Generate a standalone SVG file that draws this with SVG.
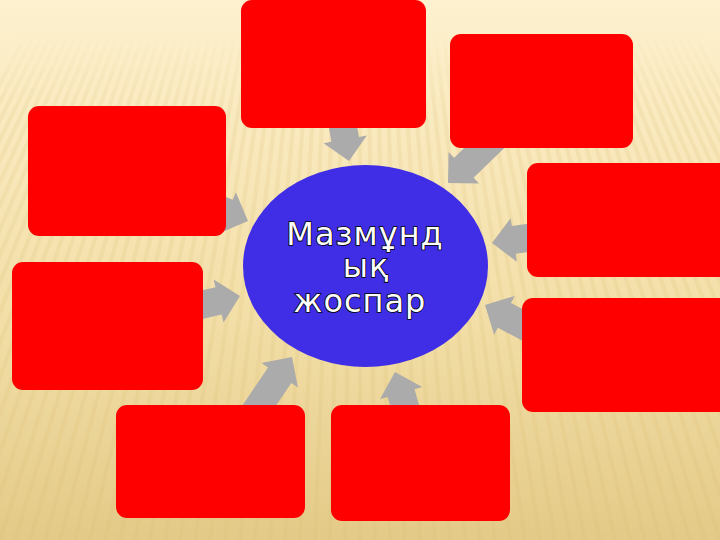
<svg xmlns="http://www.w3.org/2000/svg" width="720" height="540" viewBox="0 0 720 540">
  <defs>
    <linearGradient id="bg" x1="0" y1="0" x2="0" y2="1">
      <stop offset="0" stop-color="#fdf1cf"/>
      <stop offset="0.15" stop-color="#fbecc4"/>
      <stop offset="0.6" stop-color="#f2dea6"/>
      <stop offset="1" stop-color="#e4ca88"/>
    </linearGradient>
    <linearGradient id="fade" x1="0" y1="0" x2="0" y2="1">
      <stop offset="0" stop-color="#000"/>
      <stop offset="0.06" stop-color="#000"/>
      <stop offset="0.2" stop-color="#fff"/>
      <stop offset="1" stop-color="#fff"/>
    </linearGradient>
    <mask id="stripemask" maskUnits="userSpaceOnUse" x="0" y="0" width="720" height="540">
      <rect x="0" y="0" width="720" height="540" fill="url(#fade)"/>
    </mask>
    <polygon id="arrow" points="0,0 -22,-22 -22,-14 -75,-14 -75,14 -22,14 -22,22"/>
    <style>
      .box { fill: #ff0000; }
      .arr { fill: #ababab; }
      .lbl { font-family: "DejaVu Sans", "Noto Sans", sans-serif; font-size: 32px; fill: #ffffff; stroke: #000000; stroke-width: 1.6; paint-order: stroke; text-anchor: middle; letter-spacing: 1px; }
    </style>
  </defs>

  <g id="background">
    <rect x="0" y="0" width="720" height="540" fill="url(#bg)"/>
    <path mask="url(#stripemask)" fill="none" stroke="#d9bd70" stroke-width="4" stroke-opacity="0.16"
      d="M360 -600 L-240 540 M360 -600 L-225 540 M360 -600 L-210 540 M360 -600 L-195 540 M360 -600 L-180 540 M360 -600 L-165 540 M360 -600 L-150 540 M360 -600 L-135 540 M360 -600 L-120 540 M360 -600 L-105 540 M360 -600 L-90 540 M360 -600 L-75 540 M360 -600 L-60 540 M360 -600 L-45 540 M360 -600 L-30 540 M360 -600 L-15 540 M360 -600 L0 540 M360 -600 L15 540 M360 -600 L30 540 M360 -600 L45 540 M360 -600 L60 540 M360 -600 L75 540 M360 -600 L90 540 M360 -600 L105 540 M360 -600 L120 540 M360 -600 L135 540 M360 -600 L150 540 M360 -600 L165 540 M360 -600 L180 540 M360 -600 L195 540 M360 -600 L210 540 M360 -600 L225 540 M360 -600 L240 540 M360 -600 L255 540 M360 -600 L270 540 M360 -600 L285 540 M360 -600 L300 540 M360 -600 L315 540 M360 -600 L330 540 M360 -600 L345 540 M360 -600 L360 540 M360 -600 L375 540 M360 -600 L390 540 M360 -600 L405 540 M360 -600 L420 540 M360 -600 L435 540 M360 -600 L450 540 M360 -600 L465 540 M360 -600 L480 540 M360 -600 L495 540 M360 -600 L510 540 M360 -600 L525 540 M360 -600 L540 540 M360 -600 L555 540 M360 -600 L570 540 M360 -600 L585 540 M360 -600 L600 540 M360 -600 L615 540 M360 -600 L630 540 M360 -600 L645 540 M360 -600 L660 540 M360 -600 L675 540 M360 -600 L690 540 M360 -600 L705 540 M360 -600 L720 540 M360 -600 L735 540 M360 -600 L750 540 M360 -600 L765 540 M360 -600 L780 540 M360 -600 L795 540 M360 -600 L810 540 M360 -600 L825 540 M360 -600 L840 540 M360 -600 L855 540 M360 -600 L870 540 M360 -600 L885 540 M360 -600 L900 540 M360 -600 L915 540 M360 -600 L930 540 M360 -600 L945 540 M360 -600 L960 540"/>
  </g>

  <g id="connectors">
    <use href="#arrow" class="arr" transform="translate(349,161) rotate(80)"/>
    <use href="#arrow" class="arr" transform="translate(448,183) rotate(136)"/>
    <use href="#arrow" class="arr" transform="translate(248,221) rotate(22)"/>
    <use href="#arrow" class="arr" transform="translate(240,296) rotate(-13)"/>
    <use href="#arrow" class="arr" transform="translate(492,243) rotate(172)"/>
    <use href="#arrow" class="arr" transform="translate(485,305) rotate(208)"/>
    <use href="#arrow" class="arr" transform="translate(292,357) rotate(-56)"/>
    <use href="#arrow" class="arr" transform="translate(395,372) rotate(-106)"/>
  </g>

  <g id="box-top"><rect class="box" x="241" y="0" width="185" height="128" rx="11"/></g>
  <g id="box-top-right"><rect class="box" x="450" y="34" width="183" height="114" rx="11"/></g>
  <g id="box-left-upper"><rect class="box" x="28" y="106" width="198" height="130" rx="11"/></g>
  <g id="box-right-upper"><rect class="box" x="527" y="163" width="205" height="114" rx="11"/></g>
  <g id="box-left-middle"><rect class="box" x="12" y="262" width="191" height="128" rx="11"/></g>
  <g id="box-right-lower"><rect class="box" x="522" y="298" width="210" height="114" rx="11"/></g>
  <g id="box-bottom-left"><rect class="box" x="116" y="405" width="189" height="113" rx="11"/></g>
  <g id="box-bottom-center"><rect class="box" x="331" y="405" width="179" height="116" rx="11"/></g>

  <g id="center">
    <ellipse cx="365.5" cy="266" rx="122.5" ry="101" fill="#402ee6"/>
    <text class="lbl" x="365" y="245">Мазмұнд</text>
    <text class="lbl" x="366" y="277">ық</text>
    <text class="lbl" x="360" y="312">жоспар</text>
  </g>
</svg>
